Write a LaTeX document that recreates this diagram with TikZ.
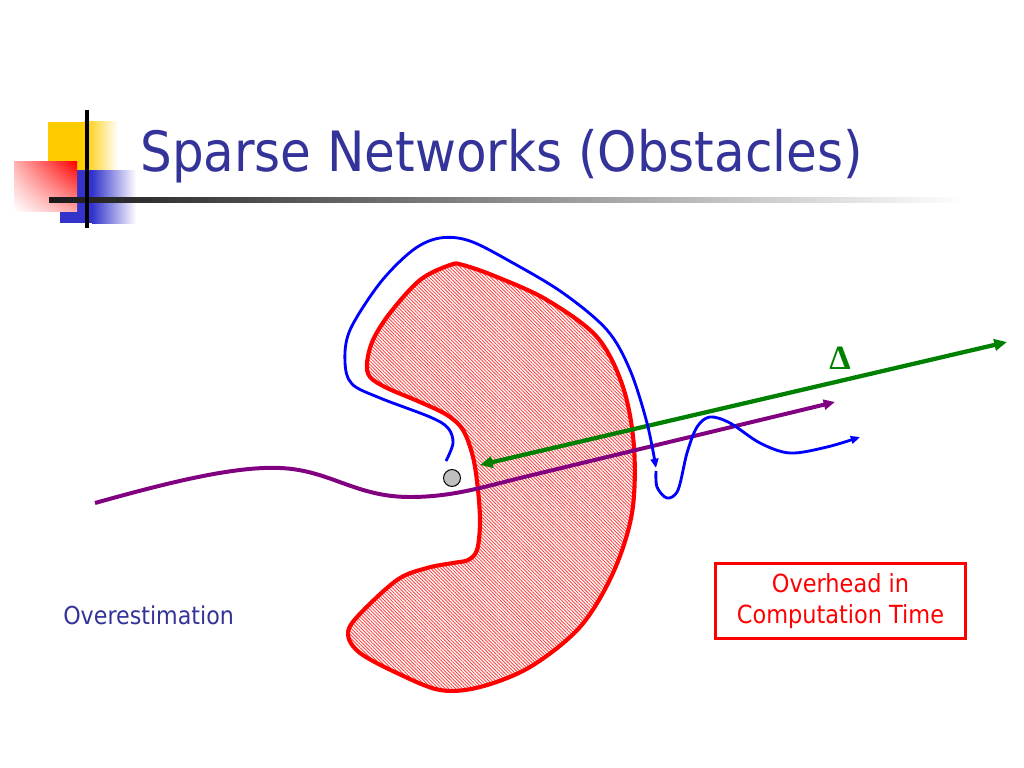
\documentclass[tikz,border=0pt]{standalone}
\usepackage{fontspec}
\setmainfont{DejaVu Sans Condensed}
\newfontfamily\deltafont{Liberation Serif}
\usepackage{tikz}
\usetikzlibrary{arrows.meta,patterns.meta,shadings,positioning}
\definecolor{titleblue}{RGB}{51,51,153}
\definecolor{decoyellow}{RGB}{255,204,0}
\definecolor{decoblue}{RGB}{51,51,204}
\definecolor{pathgreen}{RGB}{0,128,0}
\definecolor{pathpurple}{RGB}{128,0,128}
\definecolor{pathblue}{RGB}{0,0,255}

\begin{document}
\begin{tikzpicture}[
    x=0.0248cm, y=-0.0248cm,
    title_text/.style={anchor=base west, inner sep=0pt, text=titleblue, font=\fontsize{39.2}{47}\selectfont},
    note_text/.style={anchor=base west, inner sep=0pt, text=titleblue, font=\fontsize{17.4}{21}\selectfont},
    overhead_box/.style={draw=red, line width=2.2pt, text=red, align=center, minimum width=6.2cm, minimum height=1.86cm, font=\fontsize{17.6}{21.6}\selectfont},
    delta_label/.style={text=pathgreen, inner sep=0pt, font=\deltafont\bfseries\fontsize{24}{28}\selectfont},
    obstacle/.style={draw=red, line width=2.9pt, pattern={Lines[angle=-45,distance=1.7pt,line width=0.6pt]}, pattern color=red!75},
    gray_dot/.style={circle, draw=black, fill=black!25, line width=0.7pt, minimum size=0.42cm, inner sep=0pt},
    blue_path/.style={draw=pathblue, line width=2pt, -{Triangle[length=6.5pt,width=5.5pt]}},
    purple_path/.style={draw=pathpurple, line width=2.8pt, -{Triangle[length=8pt,width=7pt]}},
    green_arrow/.style={draw=pathgreen, line width=3pt, {Triangle[length=9pt,width=8pt]}-{Triangle[length=9pt,width=8pt]}}
]
    \useasboundingbox (0,0) rectangle (1024,768);

    % --- Title decoration ---
    \fill[decoyellow] (48,122) rectangle (84,170);
    \shade[left color=decoyellow, right color=white] (84,122) rectangle (118,170);
    \fill[decoblue] (60,170) rectangle (92,223);
    \shade[left color=decoblue, right color=white] (92,170) rectangle (136,223);
    \shade[upper left=red!30, upper right=red, lower left=white, lower right=red!35] (14,162) rectangle (77,211);
    \shade[left color=black!90, right color=white] (49,197.5) rectangle (965,202.5);
    \draw[line width=2.8pt] (87,110) -- (87,228);

    \node[title_text] (title) at (140,172) {Sparse Networks (Obstacles)};

    % --- Obstacle ---
    \draw[obstacle] plot[smooth cycle, tension=0.55] coordinates {
        (450,265) (420,280) (390,313) (373,340) (367,363) (370,377) (387,388)
        (420,402) (447,415) (463,430) (473,457) (478,490) (480,523) (477,550)
        (468,560) (453,563) (427,568) (397,580) (357,617) (348,635) (360,653)
        (397,673) (440,690) (480,687) (530,667) (580,627) (613,573) (632,513)
        (634,447) (623,387) (597,337) (547,300) (497,277) (463,265)};

    % --- Start point ---
    \node[gray_dot] (start) at (452,478) {};

    % --- Paths ---
    \coordinate (p_start) at (95,503);
    \coordinate (p_end) at (835,402);
    \draw[purple_path] (p_start) .. controls (170,482) and (235,466) .. (280,468)
        .. controls (330,470) and (355,497) .. (410,497)
        .. controls (450,497) and (480,488) .. (520,478) -- (p_end);

    \coordinate (g_left) at (480,465);
    \coordinate (g_right) at (1007,342);
    \draw[green_arrow] (g_left) -- (g_right);
    \node[delta_label] (delta) at (840,358) {Δ};

    \draw[blue_path] plot[smooth, tension=0.55] coordinates {
        (446,461) (453,443) (448,428) (430,417) (380,398) (352,384) (345,362)
        (350,330) (380,283) (413,250) (440,238) (470,241) (513,263) (563,293)
        (607,330) (630,370) (647,423) (656,468)};
    \draw[blue_path] plot[smooth, tension=0.55] coordinates {
        (656,471) (657,487) (667,498) (678,490) (687,453) (697,427) (710,417)
        (730,423) (760,443) (790,453) (827,447) (860,437)};

    % --- Labels ---
    \node[note_text] (over) at (63,624) {Overestimation};
    \node[overhead_box] (overhead) at (840.5,601) {Overhead in\\Computation Time};

\end{tikzpicture}
\end{document}
